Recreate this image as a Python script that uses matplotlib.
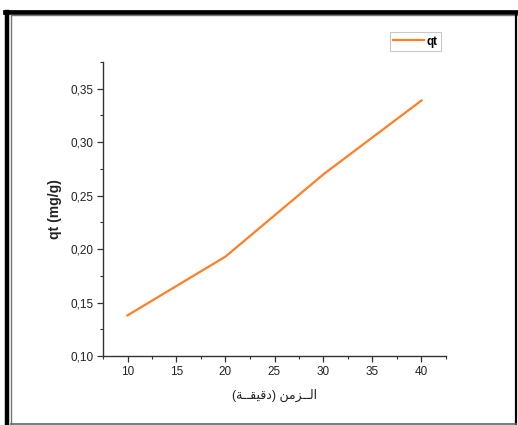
import numpy as np
import matplotlib
matplotlib.use("Agg")
import matplotlib.pyplot as plt
from matplotlib.lines import Line2D
from matplotlib.ticker import MultipleLocator, FuncFormatter

# data
time_min = [10, 20, 30, 40]
qt = [0.138, 0.193, 0.270, 0.339]

# "الــزمن (دقيقــة)" pre-shaped (presentation forms, visual order)
xlabel_ar = "(\uFE94\u0640\u0640\uFED8\uFEF4\uFED7\uFEA9) \uFEE6\uFEE3\uFEB0\u0640\u0640\uFEDF\uFE8D"
ylabel = "qt (mg/g)"
series_name = "qt"

plt.rcParams['font.family'] = ['Liberation Sans', 'DejaVu Sans']

W, H = 518, 425
fig = plt.figure(figsize=(W / 100, H / 100), dpi=100)

def fx(px):
    return px / W

def fy(py):
    return 1 - py / H

# outer frame
fig.add_artist(Line2D([fx(7), fx(7)], [fy(11.5), fy(425)], color='black', lw=3.2))
fig.add_artist(Line2D([fx(5), fx(518)], [fy(11.5), fy(11.5)], color='black', lw=3.4))
fig.add_artist(Line2D([fx(11), fx(11)], [fy(14.5), fy(425)], color='#777777', lw=1.0))
fig.add_artist(Line2D([fx(11), fx(518)], [fy(14.5), fy(14.5)], color='#777777', lw=1.0))
fig.add_artist(Line2D([fx(516), fx(516)], [fy(14), fy(425)], color='black', lw=1.6))
fig.add_artist(Line2D([fx(11), fx(516)], [fy(424), fy(424)], color='#666666', lw=1.2))

ax = fig.add_axes([fx(103), fy(356), fx(446) - fx(103), fy(62) - fy(356)])
ax.plot(time_min, qt, color='#ff7f27', lw=1.6, label=series_name)

ax.set_xlim(7.5, 42.5)
ax.set_ylim(0.10, 0.375)
ax.xaxis.set_major_locator(MultipleLocator(5))
ax.xaxis.set_minor_locator(MultipleLocator(2.5))
ax.yaxis.set_major_locator(MultipleLocator(0.05))
ax.yaxis.set_minor_locator(MultipleLocator(0.025))
ax.yaxis.set_major_formatter(FuncFormatter(lambda v, p: f"{v:.2f}".replace('.', ',')))

for s in ['top', 'right']:
    ax.spines[s].set_visible(False)
for s in ['left', 'bottom']:
    ax.spines[s].set_color('#333333')
    ax.spines[s].set_linewidth(1.0)

ax.tick_params(which='major', direction='out', length=4, width=0.9, color='#333333',
               labelsize=8.5, labelcolor='#222222', pad=3)
ax.tick_params(which='minor', direction='out', length=2.5, width=0.8, color='#333333')

ax.set_xlabel(xlabel_ar, fontsize=9, color='#222222', labelpad=8)
ax.set_ylabel(ylabel, fontsize=10, fontweight='bold', color='#222222', labelpad=6)

leg = ax.legend(loc='upper right', bbox_to_anchor=(fx(441), fy(32)),
                bbox_transform=fig.transFigure, fontsize=8.5, frameon=True,
                fancybox=False, handlelength=2.6, handletextpad=0.2,
                borderpad=0.3, borderaxespad=0)
leg.get_frame().set_edgecolor('#bbbbbb')
leg.get_frame().set_linewidth(0.8)
for t in leg.get_texts():
    t.set_fontweight('bold')

fig.savefig("out.png", dpi=100)
